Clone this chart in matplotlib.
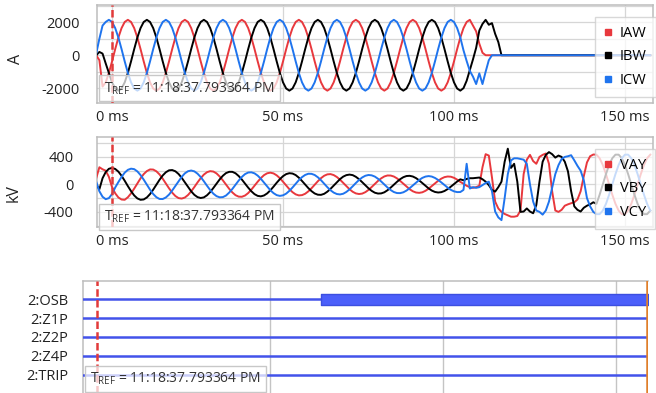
import numpy as np
import matplotlib.pyplot as plt
from matplotlib.lines import Line2D

plt.rcParams['font.family'] = ['Open Sans', 'DejaVu Sans']
plt.rcParams['axes.unicode_minus'] = False

# Abtastung: 18 Werte pro Periode (1080 Hz), Index 5 = T_REF
fs = 1080.0
ref_idx = 5

# Ströme in A
ia = [0, -300, -1900, -1647, -1075, -374, 374, 1075, 1647, 2021, 2150, 2021, 1647, 1075, 374, -374, -1075, -1647,
      -2021, -2150, -2021, -1647, -1075, -374, 374, 1075, 1647, 2021, 2150, 2021, 1647, 1075, 374, -374, -1075, -1647,
      -2021, -2150, -2021, -1647, -1075, -374, 374, 1075, 1647, 2021, 2150, 2021, 1647, 1075, 374, -374, -1075, -1647,
      -2021, -2150, -2021, -1647, -1075, -374, 374, 1075, 1647, 2021, 2150, 2021, 1647, 1075, 374, -374, -1075, -1647,
      -2021, -2150, -2021, -1647, -1075, -374, 374, 1075, 1647, 2021, 2150, 2021, 1647, 1075, 374, -374, -1075, -1647,
      -2021, -2150, -2021, -1647, -1075, -374, 374, 1075, 1647, 2021, 2150, 2021, 1647, 1075, 374, -374, -1075, -1647,
      -2021, -2150, -2021, -1647, -1075, -374, 374, 1075, 1647, 2021, 2150, 1800, 1450, 700, 150, 0, 0, 0,
      0, 0, 0, 0, 0, 0, 0, 0, 0, 0, 0, 0, 0, 0, 0, 0, 0, 0,
      0, 0, 0, 0, 0, 0, 0, 0, 0, 0, 0, 0, 0, 0, 0, 0, 0, 0,
      0, 0, 0, 0, 0, 0, 0, 0, 0, 0, 0, 0, 0, 0]
ib = [0, 200, 100, -500, -1075, -1647, -2021, -2150, -2021, -1647, -1075, -374, 374, 1075, 1647, 2021, 2150, 2021,
      1647, 1075, 374, -374, -1075, -1647, -2021, -2150, -2021, -1647, -1075, -374, 374, 1075, 1647, 2021, 2150, 2021,
      1647, 1075, 374, -374, -1075, -1647, -2021, -2150, -2021, -1647, -1075, -374, 374, 1075, 1647, 2021, 2150, 2021,
      1647, 1075, 374, -374, -1075, -1647, -2021, -2150, -2021, -1647, -1075, -374, 374, 1075, 1647, 2021, 2150, 2021,
      1647, 1075, 374, -374, -1075, -1647, -2021, -2150, -2021, -1647, -1075, -374, 374, 1075, 1647, 2021, 2150, 2021,
      1647, 1075, 374, -374, -1075, -1647, -2021, -2150, -2021, -1647, -1075, -374, 374, 1075, 1647, 2021, 2150, 2021,
      1647, 1075, 374, -374, -1075, -1647, -2021, -2150, -2000, -1550, -900, -250, 450, 1500, 1900, 2150, 1850, 1950,
      1300, 800, 0, 0, 0, 0, 0, 0, 0, 0, 0, 0, 0, 0, 0, 0, 0, 0,
      0, 0, 0, 0, 0, 0, 0, 0, 0, 0, 0, 0, 0, 0, 0, 0, 0, 0,
      0, 0, 0, 0, 0, 0, 0, 0, 0, 0, 0, 0, 0, 0]
ic = [100, 1000, 1800, 2021, 2150, 2021, 1647, 1075, 374, -374, -1075, -1647, -2021, -2150, -2021, -1647, -1075, -374,
      374, 1075, 1647, 2021, 2150, 2021, 1647, 1075, 374, -374, -1075, -1647, -2021, -2150, -2021, -1647, -1075, -374,
      374, 1075, 1647, 2021, 2150, 2021, 1647, 1075, 374, -374, -1075, -1647, -2021, -2150, -2021, -1647, -1075, -374,
      374, 1075, 1647, 2021, 2150, 2021, 1647, 1075, 374, -374, -1075, -1647, -2021, -2150, -2021, -1647, -1075, -374,
      374, 1075, 1647, 2021, 2150, 2021, 1647, 1075, 374, -374, -1075, -1647, -2021, -2150, -2021, -1647, -1075, -374,
      374, 1075, 1647, 2021, 2150, 2021, 1647, 1075, 374, -374, -1075, -1647, -2021, -2150, -2021, -1647, -1075, -374,
      374, 1075, 1647, 2021, 2150, 2021, 1647, 1075, 300, -350, -950, -1300, -1750, -1100, -1750, -1000, -300, 0,
      0, 0, 0, 0, 0, 0, 0, 0, 0, 0, 0, 0, 0, 0, 0, 0, 0, 0,
      0, 0, 0, 0, 0, 0, 0, 0, 0, 0, 0, 0, 0, 0, 0, 0, 0, 0,
      0, 0, 0, 0, 0, 0, 0, 0, 0, 0, 0, 0, 0, 0]

# Spannungen in kV
va = [90, 250, 220, 200, 110, -40, -130, -190, -220, -224, -187, -131, -61, 15, 88, 150, 194, 218,
      216, 191, 145, 83, 13, -57, -120, -169, -199, -206, -191, -154, -101, -38, 29, 91, 143, 178,
      193, 187, 160, 115, 59, -3, -64, -117, -157, -178, -180, -162, -126, -76, -19, 39, 92, 135,
      162, 171, 160, 132, 91, 39, -16, -69, -113, -145, -160, -156, -136, -101, -56, -5, 46, 91,
      126, 146, 150, 136, 108, 69, 23, -25, -70, -107, -131, -140, -134, -113, -80, -38, 7, 51,
      88, 116, 130, 129, 115, 88, 51, 10, -32, -70, -100, -118, -123, -115, -93, -62, -24, 16,
      53, 84, 106, 115, 112, 96, 70, 37, 10, -20, -40, -50, -40, -20, 250, 440, 420, 100,
      -250, -350, -400, -430, -450, -470, -470, -460, -380, 150, 360, 430, 340, 300, 400, 430, 450, 300,
      -100, -380, -400, -370, -310, -290, -274, -260, -220, -100, 120, 320, 410, 435, 433, 381, 283, 150,
      0, -150, -283, -381, -433, -433, -381, -283, -150, 0, 150, 283, 381, 433]
vb = [0, -70, 90, 180, 227, 240, 225, 186, 126, 53, -25, -98, -161, -204, -224, -219, -190, -141,
      -76, -5, 67, 130, 177, 205, 209, 191, 152, 96, 30, -38, -101, -152, -185, -198, -189, -158,
      -111, -52, 11, 73, 126, 165, 183, 183, 162, 122, 71, 12, -47, -100, -142, -167, -174, -161,
      -131, -86, -33, 24, 76, 120, 150, 163, 158, 136, 98, 50, -2, -54, -98, -132, -150, -152,
      -137, -106, -65, -17, 32, 77, 113, 135, 143, 135, 111, 76, 33, -13, -57, -94, -121, -133,
      -131, -115, -85, -47, -4, 38, 76, 105, 122, 125, 115, 92, 59, 20, -21, -59, -90, -110,
      -118, -113, -96, -68, -33, 5, 42, 74, 60, 80, 90, 90, 95, 100, 75, 40, -10, -80,
      -105, -40, 40, 330, 520, 240, 300, 40, -400, -395, -350, -395, -420, -300, 40, 330, 430, 470,
      440, 390, 420, 400, 330, 190, -100, -320, -370, -395, -340, -310, -290, -260, -283, -150, 0, 150,
      283, 381, 433, 433, 381, 283, 150, 0, -150, -283, -381, -433, -433, -381]
vc = [40, -100, -180, -215, -200, -140, -45, 34, 109, 171, 212, 229, 222, 189, 136, 69, -4, -77,
      -140, -186, -212, -213, -190, -148, -89, -22, 47, 110, 161, 192, 202, 190, 156, 107, 46, -20,
      -82, -135, -171, -188, -185, -162, -119, -66, -5, 56, 109, 150, 173, 176, 161, 128, 82, 26,
      -31, -85, -127, -156, -167, -159, -134, -94, -45, 9, 62, 106, 138, 155, 154, 137, 104, 61,
      11, -40, -85, -119, -140, -146, -136, -110, -73, -28, 20, 64, 101, 126, 137, 132, 114, 82,
      43, -1, -45, -82, -111, -126, -127, -115, -90, -55, -15, 26, 64, 95, 114, 121, 114, 94,
      65, 29, -10, -47, -79, -101, -112, -111, -80, 300, -60, -40, -50, -40, -10, 20, 40, -100,
      -395, -480, -520, -200, 150, 350, 380, 380, 370, 360, 300, 0, -250, -380, -400, -440, -380, -250,
      -50, 150, 280, 370, 400, 410, 425, 350, 270, 200, 60, -200, -320, -400, -433, -433, -381, -283,
      -150, 0, 150, 283, 381, 433, 433, 381, 283, 150, 0, -150, -283, -381]

# Digitalkanäle
dig_names = ['2:OSB', '2:Z1P', '2:Z2P', '2:Z4P', '2:TRIP']
dig_on = [64.6, None, None, None, None]   # ms, ab wann gesetzt

i_labels = ['IAW', 'IBW', 'ICW']
v_labels = ['VAY', 'VBY', 'VCY']
ms_ticks = [0, 50, 100, 150]
tref_text = r'T$_{\mathregular{REF}}$ = 11:18:37.793364 PM'

colors = ['#e8383d', '#000000', '#1f74ee']
grid_c = '#d6d6d6'
spine_c = '#bdbdbd'
fsz = 10.5


def time_ms(y):
    return (np.arange(len(y)) - ref_idx) * 1000.0 / fs


fig = plt.figure(figsize=(6.56, 3.93), dpi=100)
W, H = 656.0, 393.0


def px_axes(x0, y0, x1, y1):
    return fig.add_axes([x0 / W, 1 - y1 / H, (x1 - x0) / W, (y1 - y0) / H])


ax1 = px_axes(97, 5, 653, 103)
ax2 = px_axes(97, 137, 653, 227)
ax3 = px_axes(83, 281, 648, 393)


def tref_box(ax, dx, dy):
    ax.annotate(tref_text, xy=(0, 0), xycoords='axes fraction', xytext=(dx, dy),
                textcoords='offset points', ha='left', va='center', fontsize=10,
                color='#333333', zorder=20,
                bbox=dict(boxstyle='square,pad=0.35', fc=(1, 1, 1, 0.72), ec='#c8c8c8', lw=1))


def analog(ax, series, labels, ylim, major, minor, tick_pad, leg_y):
    for y, c, lab in zip(series, colors, labels):
        ax.plot(time_ms(y), y, color=c, lw=1.4, label=lab, zorder=3)
    ax.set_xlim(-4.4, 158.2)
    ax.set_ylim(*ylim)
    ax.set_xticks(ms_ticks)
    ax.set_xticklabels([f'{v} ms' for v in ms_ticks])
    ax.set_yticks(major)
    ax.set_yticks(minor, minor=True)
    ax.tick_params(axis='both', which='both', length=0, labelsize=fsz, colors='#222222')
    ax.tick_params(axis='x', pad=5)
    ax.tick_params(axis='y', pad=tick_pad)
    ax.grid(True, which='both', color=grid_c, lw=0.9)
    ax.set_axisbelow(True)
    for s in ax.spines.values():
        s.set_color(spine_c)
        s.set_linewidth(1.1)
    ax.axvline(0, color='#e23a3a', lw=1.8, ls=(0, (3, 1.3)), zorder=4)
    handles = [Line2D([], [], ls='none', marker='s', ms=5, color=c, label=l)
               for c, l in zip(colors, labels)]
    leg = ax.legend(handles=handles, loc='upper left', bbox_to_anchor=(0.896, leg_y),
                    frameon=True, fancybox=False, framealpha=0.75, edgecolor='#cccccc',
                    fontsize=fsz, handlelength=0.6, handletextpad=0.5,
                    labelspacing=0.6, borderpad=0.6, borderaxespad=0)
    leg.set_zorder(20)


analog(ax1, [ia, ib, ic], i_labels, (-2900, 3050), [-2000, 0, 2000],
       [-1000, 1000, 3000], 12.5, 0.878)
analog(ax2, [va, vb, vc], v_labels, (-620, 690), [-400, 0, 400],
       [-600, -200, 200, 600], 17, 0.867)
tref_box(ax1, 5, 10.5)
tref_box(ax2, 5, 7.5)

fig.text(16 / W, 1 - 59 / H, 'A', rotation=90, ha='center', va='center', fontsize=11.5, color='#222222')
fig.text(14 / W, 1 - 193 / H, 'kV', rotation=90, ha='center', va='center', fontsize=11.5, color='#222222')

# Digitalkanäle
t_end = 159.2
ax3.set_xlim(-4.05, t_end)
ax3.set_ylim(4.95, -0.95)
blue_dig = '#4353ea'
for i, (name, on) in enumerate(zip(dig_names, dig_on)):
    ax3.axhline(i, color=blue_dig, lw=1.8, zorder=3)
    if on is not None:
        ax3.broken_barh([(on, t_end - on)], (i - 0.29, 0.58), facecolor='#4b5ffa',
                        edgecolor='#3c4fe0', lw=1, zorder=4)
ax3.set_yticks(range(len(dig_names)))
ax3.set_yticklabels(dig_names)
ax3.set_xticks([50, 100, 150])
ax3.set_xticklabels([])
ax3.tick_params(axis='both', length=0, labelsize=fsz, colors='#222222')
ax3.tick_params(axis='y', pad=10.5)
ax3.grid(True, axis='x', color='#c4c4c4', lw=1)
ax3.set_axisbelow(True)
for s in ax3.spines.values():
    s.set_color(spine_c)
    s.set_linewidth(1.1)
ax3.spines['right'].set_visible(False)
ax3.spines['bottom'].set_visible(False)
ax3.axvline(0, color='#e23a3a', lw=1.8, ls=(0, (3, 1.3)), zorder=5)
ax3.axvline(t_end - 0.3, color='#e07f2a', lw=1.8, zorder=6)
tref_box(ax3, 5, 10)

fig.savefig('out.png', dpi=100)
